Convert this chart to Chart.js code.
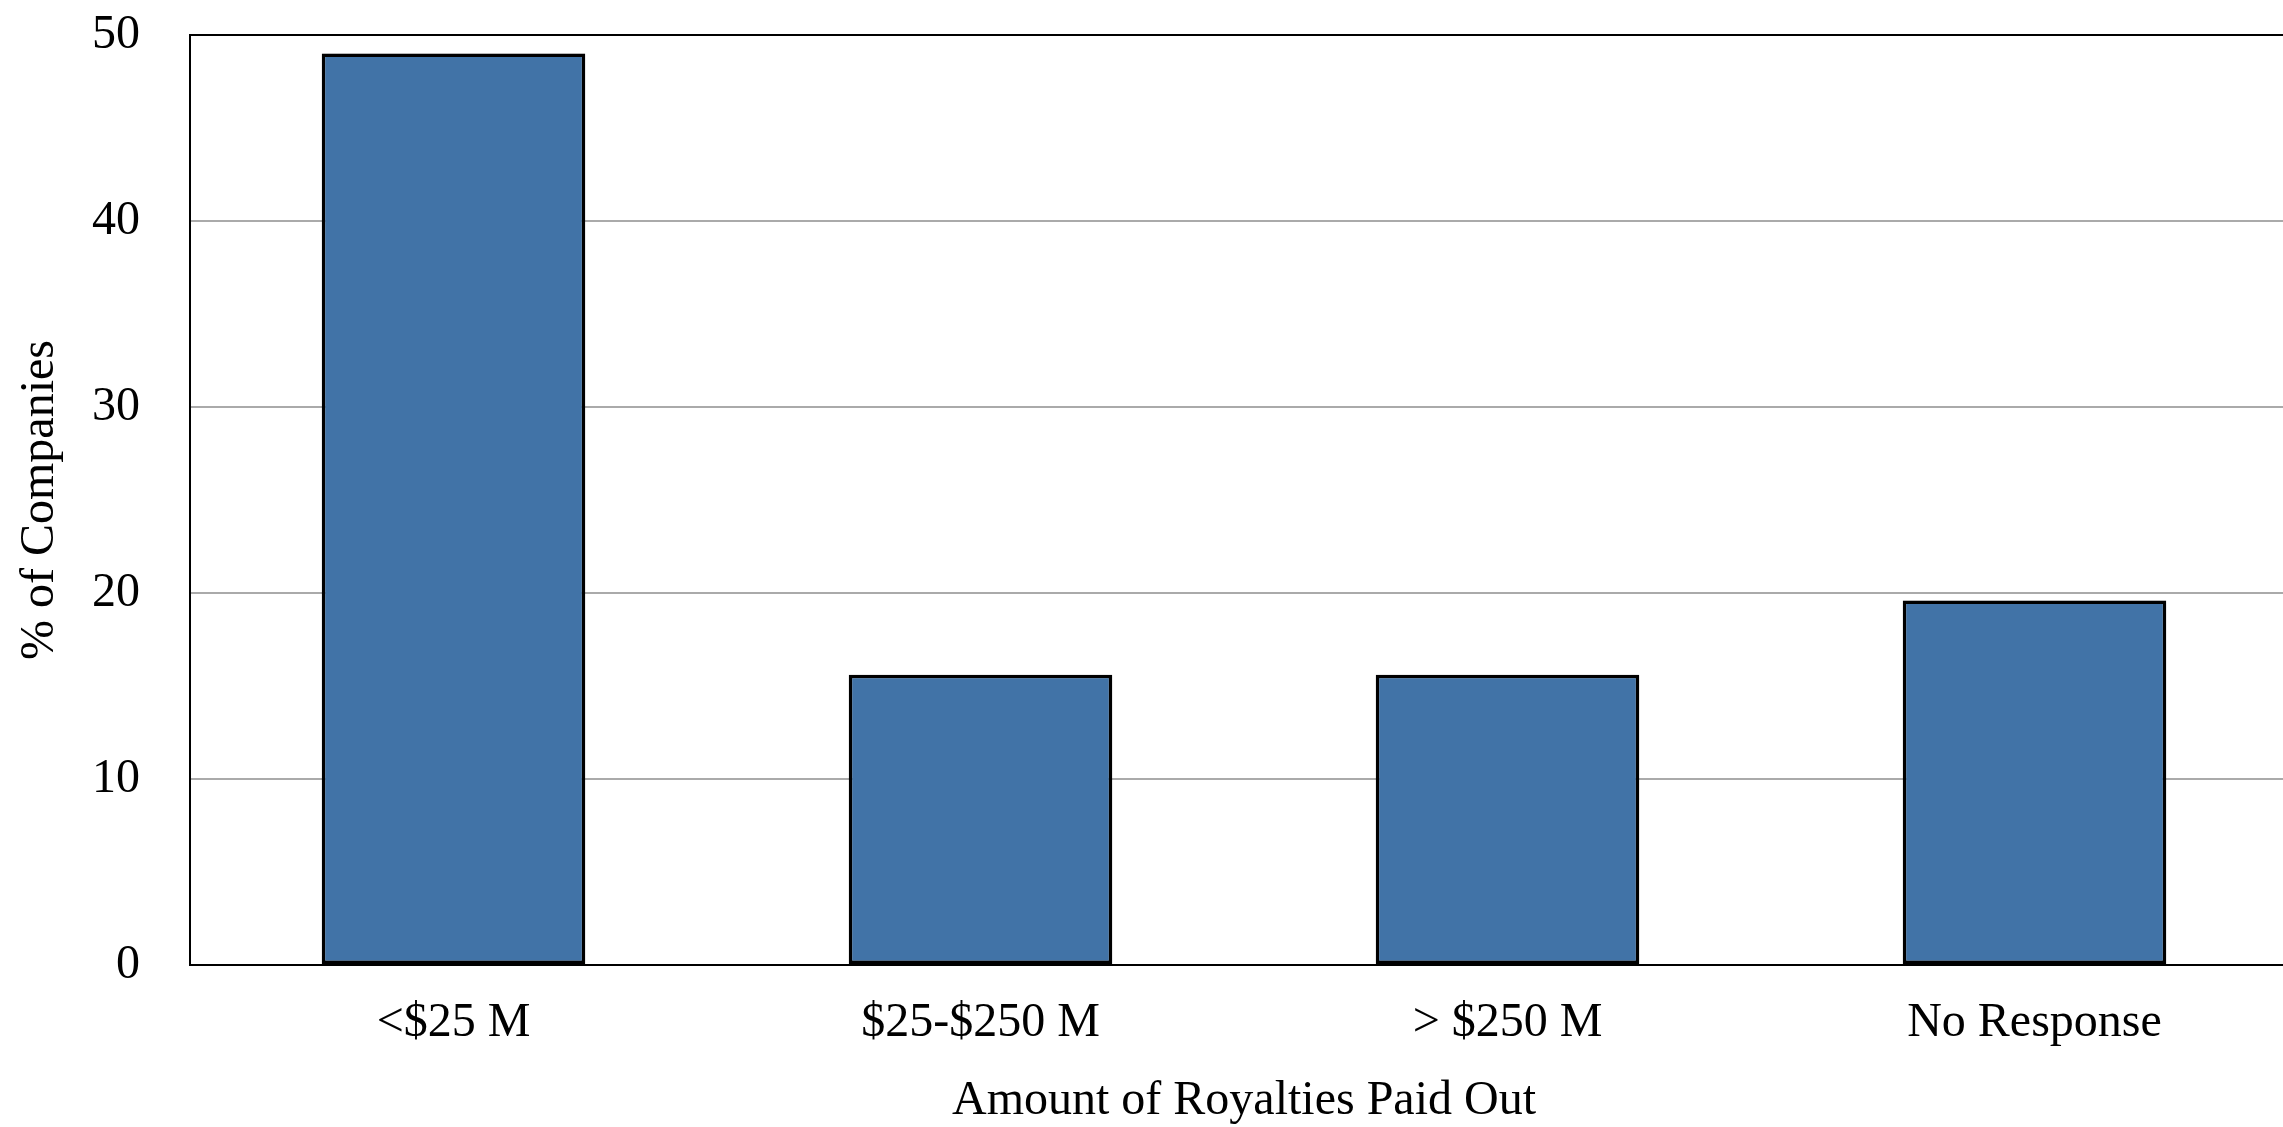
<!DOCTYPE html>
<html>
<head>
<meta charset="utf-8">
<script src="https://cdn.jsdelivr.net/npm/chart.js@4/dist/chart.umd.min.js"></script>
<style>
html, body { margin: 0; padding: 0; background: #ffffff; overflow: hidden; }
#wrap { position: relative; width: 2298px; height: 1127px; }
</style>
</head>
<body>
<div id="wrap"><canvas id="c" width="2298" height="1127"></canvas></div>
<script>
const categories = ['<$25 M', '$25-$250 M', '> $250 M', 'No Response'];
const percentCompanies = [49, 15.6, 15.6, 19.6];
const yTicks = [0, 10, 20, 30, 40, 50];
const xTitle = 'Amount of Royalties Paid Out';
const yTitle = '% of Companies';

const FONT = 'Liberation Serif, Times New Roman, serif';
const FS = 48;

const shadowPlugin = {
  id: 'barShadow',
  beforeDatasetDraw(chart) {
    const ctx = chart.ctx;
    ctx.save();
    ctx.shadowColor = 'rgba(0,0,0,0.25)';
    ctx.shadowBlur = 6;
    ctx.shadowOffsetX = 1;
    ctx.shadowOffsetY = 1;
  },
  afterDatasetDraw(chart) {
    chart.ctx.restore();
  }
};

new Chart(document.getElementById('c'), {
  type: 'bar',
  data: {
    labels: categories,
    datasets: [{
      data: percentCompanies,
      backgroundColor: '#4173a7',
      borderColor: '#000000',
      borderWidth: 3.5,
      borderSkipped: false,
      barPercentage: 0.5,
      categoryPercentage: 1.0
    }]
  },
  plugins: [shadowPlugin],
  options: {
    responsive: false,
    animation: false,
    devicePixelRatio: 1,
    layout: { autoPadding: false, padding: { top: 35, left: 0, right: 0, bottom: 0 } },
    plugins: { legend: { display: false }, tooltip: { enabled: false } },
    scales: {
      x: {
        grid: { display: false, drawTicks: false },
        border: { display: true, color: '#000000', width: 2 },
        ticks: { color: '#000000', font: { family: FONT, size: FS }, padding: 30, maxRotation: 0 },
        title: { display: true, text: xTitle, color: '#000000', font: { family: FONT, size: FS, lineHeight: 1.05 }, padding: { top: 0, bottom: 0 } },
        afterFit(scale) { scale.height = 162; }
      },
      y: {
        min: 0,
        max: 50,
        afterBuildTicks(scale) { scale.ticks = yTicks.map(v => ({ value: v })); },
        grid: {
          drawTicks: false,
          color: (c) => (c.tick && c.tick.value === 50) ? '#000000' : '#aaaaaa',
          lineWidth: 2
        },
        border: { display: true, color: '#000000', width: 2 },
        ticks: { color: '#000000', font: { family: FONT, size: FS }, padding: 50 },
        title: { display: true, text: yTitle, color: '#000000', font: { family: FONT, size: FS, lineHeight: 1.2 }, padding: { top: 12, bottom: 0 } },
        afterFit(scale) { scale.width = 190; scale.paddingTop = 20; scale.paddingBottom = 20; }
      }
    }
  }
});
</script>
</body>
</html>
